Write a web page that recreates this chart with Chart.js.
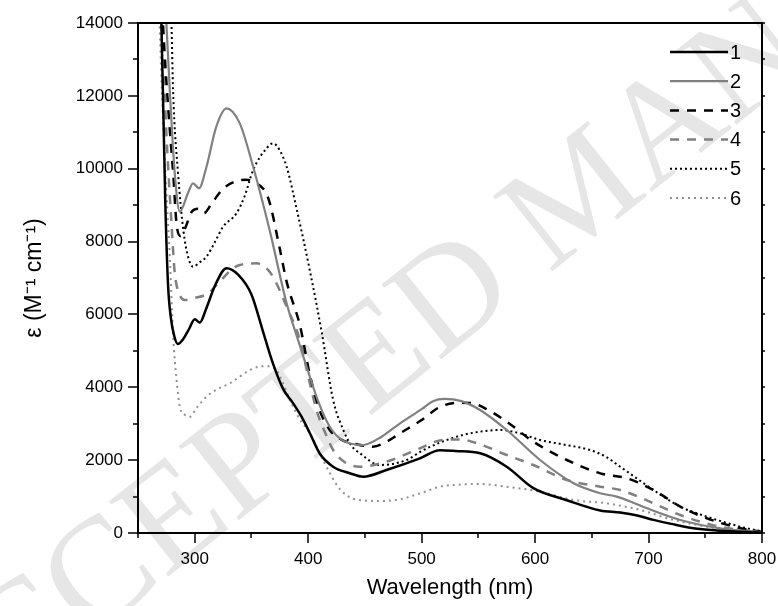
<!DOCTYPE html>
<html>
<head>
<meta charset="utf-8">
<script src="https://cdn.jsdelivr.net/npm/chart.js@4.4.1/dist/chart.umd.min.js"></script>
<style>
    html, body { margin: 0; padding: 0; background: #fff; }
    #wrap { width: 778px; height: 606px; position: relative; }
</style>
</head>
<body>
<div id="wrap"><canvas id="uv-vis-chart"></canvas></div>
<script>
// wavelength (nm) / epsilon (M-1 cm-1)
const wl1 = [264, 270.6, 274, 276.5, 279, 282, 285, 290, 295, 300, 304.5, 310, 318, 328, 338, 350, 360, 369, 378, 386.8, 394, 401.5, 410, 422, 436.8, 448.5, 469, 498.5, 516, 530, 551.5, 575, 598.5, 628, 657.4, 675, 690, 704.4, 720, 739.7, 760, 781, 800];
const eps1 = [18000, 14000, 9140, 6800, 5900, 5400, 5190, 5330, 5600, 5870, 5780, 6150, 6800, 7270, 7100, 6550, 5550, 4650, 3950, 3560, 3200, 2740, 2190, 1820, 1640, 1545, 1730, 2050, 2270, 2250, 2190, 1820, 1230, 900, 620, 560, 480, 360, 250, 130, 70, 36, 10];

const wl2 = [264, 275, 278, 282.4, 286.8, 294, 298.5, 303.8, 310.4, 319, 328, 339.7, 351.5, 366, 381, 390, 398.6, 409, 419, 430, 448.5, 465, 481, 500, 510, 520, 535, 551.5, 575, 604.4, 634, 657.4, 672, 685, 698.6, 728, 763, 800];
const eps2 = [20000, 14000, 12160, 9874, 8820, 9325, 9600, 9462, 10055, 11153, 11658, 11245, 10055, 8318, 6305, 5400, 4565, 3600, 2918, 2550, 2416, 2650, 3011, 3400, 3620, 3680, 3620, 3376, 2827, 2004, 1364, 1090, 997, 850, 678, 357, 128, 20];

const wl3 = [264, 272, 277, 281, 283.9, 287.5, 292, 297, 303, 308, 315, 325, 335, 345, 352, 364.7, 375, 381, 392.7, 401.5, 410, 419, 430, 439.7, 457, 470, 481, 500, 516, 533.8, 545, 560, 575, 598.5, 628, 657.4, 681, 704.4, 728, 751.5, 781, 800];
const eps3 = [20000, 14000, 11500, 9880, 8510, 8150, 8400, 8800, 8900, 8780, 9050, 9450, 9640, 9700, 9640, 9200, 7800, 6900, 5700, 4340, 3380, 2830, 2550, 2460, 2370, 2520, 2737, 3100, 3460, 3577, 3560, 3350, 3056, 2507, 2004, 1638, 1500, 1180, 722, 403, 128, 30];

const wl4 = [264, 271, 275, 279.5, 282.4, 286, 291, 300, 311.8, 322, 333.8, 339.7, 354.5, 362, 369, 381, 392.7, 400, 407.4, 415, 422, 432, 445.6, 469, 498.5, 516, 533.8, 550, 575, 598.5, 628, 657.4, 675, 704.4, 728, 763, 800];
const eps4 = [20000, 14000, 11000, 8510, 7137, 6600, 6396, 6450, 6580, 6900, 7266, 7357, 7403, 7300, 7036, 6212, 5298, 4300, 3376, 2750, 2278, 1950, 1820, 1957, 2325, 2540, 2570, 2450, 2141, 1867, 1455, 1271, 1180, 815, 494, 173, 25];

const wl5 = [268, 279.5, 280.9, 285.3, 290, 294, 298.5, 304, 310.4, 318, 325, 336.8, 344, 351.5, 363.3, 369, 375, 381, 389.8, 401.5, 412, 422, 431, 438, 445.6, 463, 486.8, 500, 516, 535, 551.5, 569, 585, 604.4, 625, 648.5, 662, 675, 704.4, 728, 751.5, 781, 800];
const eps5 = [25000, 14000, 12160, 9874, 8300, 7600, 7310, 7420, 7585, 8000, 8408, 8776, 9250, 9964, 10560, 10697, 10500, 10055, 8900, 7200, 5500, 3651, 2827, 2400, 2188, 1867, 2004, 2250, 2480, 2680, 2781, 2827, 2750, 2553, 2430, 2278, 2100, 1820, 1180, 722, 447, 173, 40];

const wl6 = [264, 269, 274, 278, 281, 284, 287, 291, 295.6, 302, 310.4, 320, 331, 340, 348.6, 356, 363.3, 372, 378, 383.9, 392, 401.5, 410, 419, 428, 438, 450, 465, 480, 500, 516, 535, 551.5, 575, 604.4, 634, 663, 692.7, 722, 751.5, 781, 800];
const eps6 = [20000, 14000, 10000, 7600, 5400, 4200, 3450, 3250, 3190, 3450, 3741, 3950, 4109, 4300, 4474, 4560, 4580, 4474, 4100, 3651, 3150, 2737, 2200, 1650, 1200, 960, 890, 880, 920, 1100, 1271, 1330, 1345, 1271, 1134, 906, 815, 631, 357, 173, 60, 20];

const seriesNames = ["1", "2", "3", "4", "5", "6"];
const xTicks = [300, 400, 500, 600, 700, 800];
const yTicks = [0, 2000, 4000, 6000, 8000, 10000, 12000, 14000];

const FONT = '"Liberation Sans", Arial, Helvetica, sans-serif';

function pts(xs, ys) {
    return xs.map((x, i) => ({x: x, y: ys[i]}));
}

// light diagonal watermark behind the plot
const watermark = {
    id: "watermark",
    beforeDraw(chart) {
        const ctx = chart.ctx;
        ctx.save();
        ctx.translate(-70, 766);
        ctx.rotate(-38.5 * Math.PI / 180);
        ctx.font = '146px "Liberation Serif", "Times New Roman", serif';
        ctx.fillStyle = "#e6e6e6";
        ctx.textBaseline = "alphabetic";
        ctx.fillText("ACCEPTED MANUSCRIPT", 0, 0);
        ctx.restore();
    }
};

// frame, major/minor tick marks and the in-plot legend
const frame = {
    id: "frame",
    afterDraw(chart) {
        const ctx = chart.ctx;
        const a = chart.chartArea;
        const xs = chart.scales.x;
        const ys = chart.scales.y;
        ctx.save();
        ctx.strokeStyle = "#000";
        ctx.lineWidth = 2;
        ctx.beginPath();
        ctx.moveTo(a.left, a.top);
        ctx.lineTo(a.right, a.top);
        ctx.lineTo(a.right, a.bottom);
        ctx.stroke();

        ctx.lineWidth = 1.5;
        ctx.beginPath();
        for (let v = 250; v <= 800; v += 50) {
            const px = Math.round(xs.getPixelForValue(v));
            const len = v % 100 === 0 ? 10 : 5;
            ctx.moveTo(px, a.bottom);
            ctx.lineTo(px, a.bottom + len);
        }
        for (let v = 0; v <= 14000; v += 1000) {
            const py = Math.round(ys.getPixelForValue(v));
            const len = v % 2000 === 0 ? 10 : 5;
            ctx.moveTo(a.left, py);
            ctx.lineTo(a.left - len, py);
            ctx.moveTo(a.right, py);
            ctx.lineTo(a.right + 3, py);
        }
        ctx.stroke();

        ctx.font = "20px " + FONT;
        ctx.textBaseline = "middle";
        ctx.textAlign = "left";
        chart.data.datasets.forEach((ds, i) => {
            const y = a.top + 29 + i * 29.2;
            ctx.beginPath();
            ctx.strokeStyle = ds.borderColor;
            ctx.lineWidth = ds.borderWidth;
            ctx.setLineDash(ds.borderDash || []);
            ctx.moveTo(a.right - 92, y);
            ctx.lineTo(a.right - 34, y);
            ctx.stroke();
            ctx.setLineDash([]);
            ctx.fillStyle = "#000";
            ctx.fillText(ds.label, a.right - 32, y + 1);
        });
        ctx.restore();
    }
};

const styles = [
    {color: "#000000", width: 2.5, dash: []},
    {color: "#808080", width: 2.2, dash: []},
    {color: "#000000", width: 2.5, dash: [9, 8]},
    {color: "#808080", width: 2.5, dash: [9, 8]},
    {color: "#000000", width: 2, dash: [2, 3]},
    {color: "#909090", width: 2, dash: [2, 4]}
];

const allX = [wl1, wl2, wl3, wl4, wl5, wl6];
const allY = [eps1, eps2, eps3, eps4, eps5, eps6];

const chartData = {
    datasets: seriesNames.map((name, i) => ({
        label: name,
        data: pts(allX[i], allY[i]),
        borderColor: styles[i].color,
        borderWidth: styles[i].width,
        borderDash: styles[i].dash,
        pointRadius: 0,
        fill: false,
        cubicInterpolationMode: "monotone"
    }))
};

const chartOptions = {
    responsive: true,
    maintainAspectRatio: false,
    animation: false,
    devicePixelRatio: 1,
    layout: {
        padding: {top: 23, right: 16, left: 0, bottom: 0}
    },
    plugins: {
        legend: {display: false},
        tooltip: {enabled: false}
    },
    scales: {
        x: {
            type: "linear",
            min: 250,
            max: 800,
            afterBuildTicks: s => { s.ticks = xTicks.map(v => ({value: v})); },
            afterFit: s => {
                s.height = 73;
                s.paddingLeft = 0;
                s.paddingRight = 0;
            },
            grid: {display: false, drawTicks: false},
            border: {display: true, color: "#000", width: 2},
            ticks: {
                padding: 16,
                maxRotation: 0,
                color: "#000",
                font: {family: FONT, size: 17},
                callback: v => String(v)
            },
            title: {
                display: true,
                text: "Wavelength (nm)",
                color: "#000",
                font: {family: FONT, size: 22},
                padding: {top: 0, bottom: 5}
            }
        },
        y: {
            type: "linear",
            min: 0,
            max: 14000,
            afterBuildTicks: s => { s.ticks = yTicks.map(v => ({value: v})); },
            afterFit: s => {
                s.width = 138;
                s.paddingTop = 0;
                s.paddingBottom = 0;
            },
            grid: {display: false, drawTicks: false},
            border: {display: true, color: "#000", width: 2},
            ticks: {
                padding: 15,
                color: "#000",
                font: {family: FONT, size: 17},
                callback: v => String(v)
            },
            title: {
                display: true,
                text: "ε (M⁻¹ cm⁻¹)",
                color: "#000",
                font: {family: FONT, size: 23},
                padding: {top: 21, bottom: 0}
            }
        }
    }
};

new Chart(document.getElementById("uv-vis-chart"), {
    type: "line",
    data: chartData,
    options: chartOptions,
    plugins: [watermark, frame]
});
</script>
</body>
</html>
